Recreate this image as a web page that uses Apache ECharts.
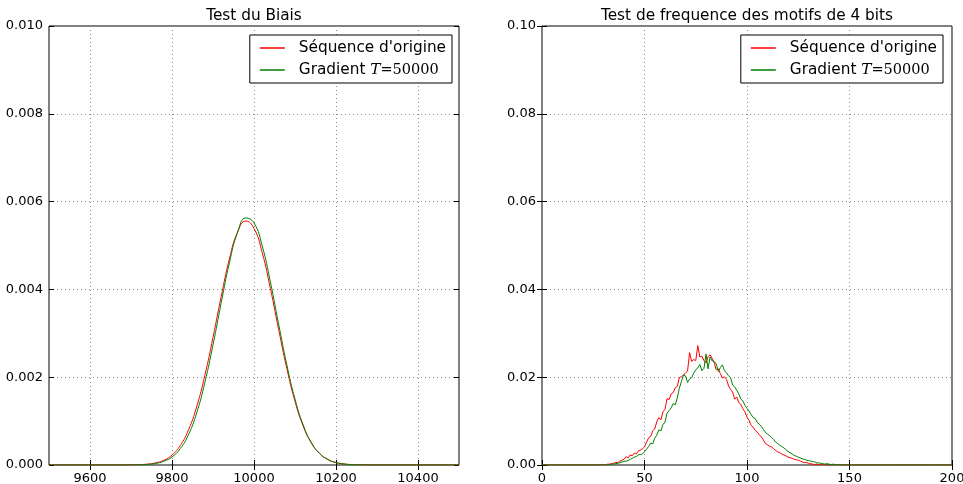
<!DOCTYPE html>
<html>
<head>
<meta charset="utf-8">
<script src="https://cdn.jsdelivr.net/npm/echarts@6/dist/echarts.min.js"></script>
<style>html,body{margin:0;padding:0;background:#fff;}#c{width:963px;height:484px;}</style>
</head>
<body>
<div id="c"></div>
<script>
// ---- Left panel: Test du Biais ----
const leftTitle = 'Test du Biais';
const leftX = [9500,9520,9540,9560,9580,9600,9620,9640,9660,9680,
  9700,9720,9740,9760,9780,9800,9820,9840,9860,9880,
  9900,9920,9940,9960,9980,10000,10020,10040,10060,10080,
  10100,10120,10140,10160,10180,10200,10220,10240,10260,10280,
  10300,10320,10340,10360,10380,10400,10420,10440,10460,10480,10500];
const leftRed = [0,0,0,0,0,0,0,0,0,0.0000009,
  0.0000026,0.0000074,0.0000196,0.000048,0.0001085,0.000228,0.000442,0.000795,0.001323,0.002038,
  0.002907,0.003838,0.004691,0.005307,0.005558,0.005389,0.004838,0.004019,0.003092,0.002202,
  0.001451,0.000886,0.0005,0.000262,0.000127,0.0000568,0.0000236,0.0000091,0.0000032,0.000001,
  0,0,0,0,0,0,0,0,0,0,0];
const leftGreen = [0,0,0,0,0,0,0,0,0,0.0000005,
  0.0000017,0.000005,0.0000139,0.0000357,0.0000843,0.000184,0.000371,0.000688,0.001182,0.001873,
  0.002738,0.003696,0.004606,0.005298,0.005626,0.005514,0.00499,0.004167,0.003213,0.002286,
  0.001502,0.000911,0.00051,0.000264,0.000126,0.000055,0.0000225,0.0000085,0.000003,0.000001,
  0,0,0,0,0,0,0,0,0,0,0];
const leftXTicks = [9600,9800,10000,10200,10400];
const leftYTicks = [0,0.002,0.004,0.006,0.008,0.010];

// ---- Right panel: Test de frequence des motifs de 4 bits ----
const rightTitle = 'Test de frequence des motifs de 4 bits';
const rightRed = [
  0,0,0,0,0,0,0,0,0,0,
  0,0,0,0,0,0,0,0,0,0,
  0,0,0,0,0,0,0,0,0,0,
  0.0001,0,0.0002,0.0002,0.0003,0.0004,0.0006,0.0005,0.0009,0.0011,
  0.0013,0.0019,0.0016,0.0023,0.0021,0.0027,0.0025,0.0032,0.0034,0.0037,
  0.0041,0.0052,0.0062,0.0065,0.0078,0.0082,0.0099,0.0108,0.0103,0.0121,
  0.0127,0.0151,0.0149,0.0162,0.0165,0.0176,0.0179,0.0199,0.0201,0.0205,
  0.0210,0.0214,0.0256,0.0236,0.0240,0.0238,0.0272,0.0246,0.0248,0.0238,
  0.0232,0.0247,0.0251,0.0243,0.0233,0.0217,0.0219,0.0208,0.0198,0.0201,
  0.0195,0.0180,0.0172,0.0166,0.0150,0.0155,0.0142,0.0138,0.0128,0.0121,
  0.0109,0.0102,0.0090,0.0086,0.0079,0.0075,0.0069,0.0064,0.0057,0.0049,
  0.0046,0.0043,0.0041,0.0037,0.0033,0.0030,0.0028,0.0025,0.0023,0.0021,
  0.0018,0.0017,0.0015,0.0013,0.0012,0.0011,0.0009,0.0007,0.0005,0.0006,
  0.0004,0.0003,0.0002,0.0001,0.0002,0.0001,0.0001,0,0.0001,0,
  0,0,0,0,0,0,0,0,0,0,
  0,0,0,0,0,0,0,0,0,0,
  0,0,0,0,0,0,0,0,0,0,
  0,0,0,0,0,0,0,0,0,0,
  0,0,0,0,0,0,0,0,0,0,
  0,0,0,0,0,0,0,0,0,0,
  0];
const rightGreen = [
  0,0,0,0,0,0,0,0,0,0,
  0,0,0,0,0,0,0,0,0,0,
  0,0,0,0,0,0,0,0,0,0,
  0,0,0.0001,0.0001,0.0002,0.0002,0.0003,0.0004,0.0005,0.0007,
  0.0008,0.0009,0.0010,0.0013,0.0015,0.0018,0.0019,0.0023,0.0024,0.0025,
  0.0030,0.0036,0.0042,0.0050,0.0048,0.0061,0.0068,0.0080,0.0078,0.0092,
  0.0098,0.0118,0.0124,0.0130,0.0140,0.0137,0.0153,0.0175,0.0190,0.0205,
  0.0203,0.0188,0.0196,0.0199,0.0209,0.0217,0.0221,0.0229,0.0215,0.0220,
  0.0253,0.0219,0.0246,0.0237,0.0236,0.0230,0.0213,0.0222,0.0228,0.0215,
  0.0210,0.0203,0.0199,0.0182,0.0178,0.0170,0.0162,0.0150,0.0146,0.0136,
  0.0129,0.0123,0.0115,0.0108,0.0106,0.0097,0.0093,0.0088,0.0081,0.0074,
  0.0071,0.0066,0.0063,0.0058,0.0052,0.0049,0.0045,0.0042,0.0039,0.0035,
  0.0031,0.0028,0.0025,0.0022,0.0020,0.0018,0.0016,0.0014,0.0013,0.0011,
  0.0010,0.0009,0.0008,0.0007,0.0005,0.0005,0.0004,0.0003,0.0002,0.0003,
  0.0002,0.0001,0.0002,0.0001,0.0001,0,0.0001,0,0,0,
  0,0,0,0,0,0,0,0,0,0,
  0,0,0,0,0,0,0,0,0,0,
  0,0,0,0,0,0,0,0,0,0,
  0,0,0,0,0,0,0,0,0,0,
  0,0,0,0,0,0,0,0,0,0,
  0];
const rightXTicks = [0,50,100,150,200];
const rightYTicks = [0,0.02,0.04,0.06,0.08,0.10];

const nameRed = "Séquence d'origine";
const nameGreen = 'Gradient T=50000';

const FONT = 'DejaVu Sans';
const GRID_LINE = {show:true, lineStyle:{color:'#888', width:1, type:[1,3]}};

function pairs(xs, ys){ return ys.map((v,i)=>[xs[i], v]); }
function idxPairs(ys){ return ys.map((v,i)=>[i, v]); }

function mainX(gi, min, max, interval, ticks, custom){
  const o = {type:'value', gridIndex:gi, min:min, max:max,
    axisLine:{show:false},
    axisTick:{show:true, inside:true, length:5, lineStyle:{color:'#000'}},
    axisLabel:{show:true, color:'#000', fontFamily:FONT, fontSize:13, margin:7,
      formatter: v => String(v)},
    splitLine:GRID_LINE};
  if (custom) { o.axisTick.customValues = ticks; o.axisLabel.customValues = ticks; }
  else { o.interval = interval; }
  return o;
}
function sideX(gi, min, max, interval, ticks, custom){
  const o = {type:'value', gridIndex:gi, min:min, max:max, position:'top',
    axisLine:{show:false}, axisLabel:{show:false}, splitLine:{show:false},
    axisTick:{show:true, inside:true, length:5, lineStyle:{color:'#000'}}};
  if (custom) { o.axisTick.customValues = ticks; } else { o.interval = interval; }
  return o;
}
function mainY(gi, max, interval, dec){
  return {type:'value', gridIndex:gi, min:0, max:max, interval:interval,
    axisLine:{show:false},
    axisTick:{show:true, inside:true, length:5, lineStyle:{color:'#000'}},
    axisLabel:{show:true, color:'#000', fontFamily:FONT, fontSize:13, margin:6,
      formatter: v => v.toFixed(dec)},
    splitLine:GRID_LINE};
}
function sideY(gi, max, interval){
  return {type:'value', gridIndex:gi, min:0, max:max, interval:interval, position:'right',
    axisLine:{show:false}, axisLabel:{show:false}, splitLine:{show:false},
    axisTick:{show:true, inside:true, length:5, lineStyle:{color:'#000'}}};
}

function legendFor(rightPos){
  return {
    right: rightPos, top: 35, orient:'vertical', align:'left',
    backgroundColor:'#fff', borderColor:'#000', borderWidth:1, borderRadius:0,
    padding:[5,6,5,10], itemGap:6, itemWidth:25, itemHeight:1.5, icon:'rect',
    data:[nameRed, nameGreen],
    formatter: n => n === nameGreen ? '{n|Gradient }{t|T}{m|=50000}' : '{n|' + n + '}',
    textStyle:{color:'#000', fontFamily:FONT, fontSize:15.3, lineHeight:16,
      rich:{
        n:{fontFamily:FONT, fontSize:15.3, color:'#000', padding:[0,0,0,9]},
        t:{fontFamily:'DejaVu Serif', fontStyle:'italic', fontSize:15.3, color:'#000'},
        m:{fontFamily:'DejaVu Serif', fontSize:14.5, color:'#000'}
      }}
  };
}

const chart = echarts.init(document.getElementById('c'), null, {renderer:'canvas'});
chart.setOption({
  animation:false,
  backgroundColor:'#fff',
  title:[
    {text:leftTitle, left:254, top:9, textAlign:'center', padding:0,
     textStyle:{fontFamily:FONT, fontSize:15.3, fontWeight:'normal', color:'#000'}},
    {text:rightTitle, left:747, top:9, textAlign:'center', padding:0,
     textStyle:{fontFamily:FONT, fontSize:15.3, fontWeight:'normal', color:'#000'}}
  ],
  grid:[
    {left:49, right:504, top:26, bottom:19, show:true, borderColor:'#000', borderWidth:1,
     backgroundColor:'transparent', outerBoundsMode:'none', containLabel:false},
    {left:542, right:11, top:26, bottom:19, show:true, borderColor:'#000', borderWidth:1,
     backgroundColor:'transparent', outerBoundsMode:'none', containLabel:false}
  ],
  legend:[legendFor(511), legendFor(20)],
  xAxis:[
    mainX(0, 9500, 10500, 200, leftXTicks, true),
    mainX(1, 0, 200, 50, rightXTicks, false),
    sideX(0, 9500, 10500, 200, leftXTicks, true),
    sideX(1, 0, 200, 50, rightXTicks, false)
  ],
  yAxis:[
    mainY(0, 0.010, 0.002, 3),
    mainY(1, 0.10, 0.02, 2),
    sideY(0, 0.010, 0.002),
    sideY(1, 0.10, 0.02)
  ],
  series:[
    {name:nameRed, type:'line', xAxisIndex:0, yAxisIndex:0, data:pairs(leftX,leftRed),
     smooth:true, symbol:'none', lineStyle:{color:'#ff0000', width:1}, itemStyle:{color:'#ff0000'}},
    {name:nameGreen, type:'line', xAxisIndex:0, yAxisIndex:0, data:pairs(leftX,leftGreen),
     smooth:true, symbol:'none', lineStyle:{color:'#008000', width:1}, itemStyle:{color:'#008000'}},
    {name:nameRed, type:'line', xAxisIndex:1, yAxisIndex:1, data:idxPairs(rightRed),
     symbol:'none', lineStyle:{color:'#ff0000', width:1}, itemStyle:{color:'#ff0000'}},
    {name:nameGreen, type:'line', xAxisIndex:1, yAxisIndex:1, data:idxPairs(rightGreen),
     symbol:'none', lineStyle:{color:'#008000', width:1}, itemStyle:{color:'#008000'}}
  ]
});
</script>
</body>
</html>
